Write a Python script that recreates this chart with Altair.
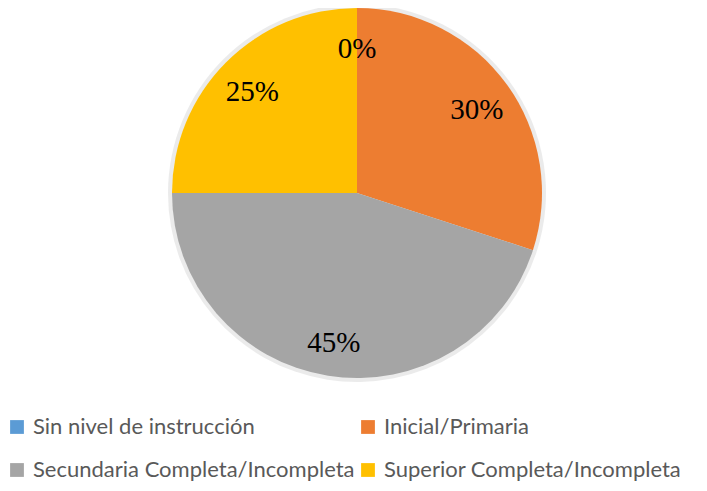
import altair as alt
import pandas as pd

categories = ["Sin nivel de instrucción", "Inicial/Primaria",
              "Secundaria Completa/Incompleta", "Superior Completa/Incompleta"]
values = [0, 30, 45, 25]
labels = ["0%", "30%", "45%", "25%"]
colors = ["#5B9BD5", "#ED7D31", "#A5A5A5", "#FFC000"]

df = pd.DataFrame({"cat": categories, "val": values, "lab": labels,
                   "order": list(range(len(categories)))})

cx, cy, r = 349, 185, 185

base = alt.Chart(df).encode(
    theta=alt.Theta("val:Q", stack=True),
    order=alt.Order("order:Q"),
    x=alt.value(cx), y=alt.value(cy),
)

shadow = base.mark_arc(radius=r + 4, color="#dddddd", opacity=0.6)

pie = base.mark_arc(radius=r).encode(
    color=alt.Color("cat:N", sort=categories,
                    scale=alt.Scale(domain=categories, range=colors),
                    legend=alt.Legend(
                        title=None, orient="none", legendX=-2, legendY=408,
                        direction="horizontal", columns=2,
                        symbolType="square", symbolSize=190,
                        symbolStrokeWidth=0, labelFontSize=22,
                        labelFont="Lato, sans-serif",
                        labelColor="#595959", labelOffset=5,
                        rowPadding=21, columnPadding=2, labelLimit=400)),
)

text = base.mark_text(radius=148, dy=4, font="Liberation Serif", fontSize=29,
                      color="#000000").encode(text="lab:N")

chart = alt.layer(shadow, pie, text).properties(
    width=691, height=475, padding=0, autosize="none", background="#ffffff"
).configure_view(stroke=None)

chart.save("out.html", embed_options={"renderer": "svg", "actions": False})
